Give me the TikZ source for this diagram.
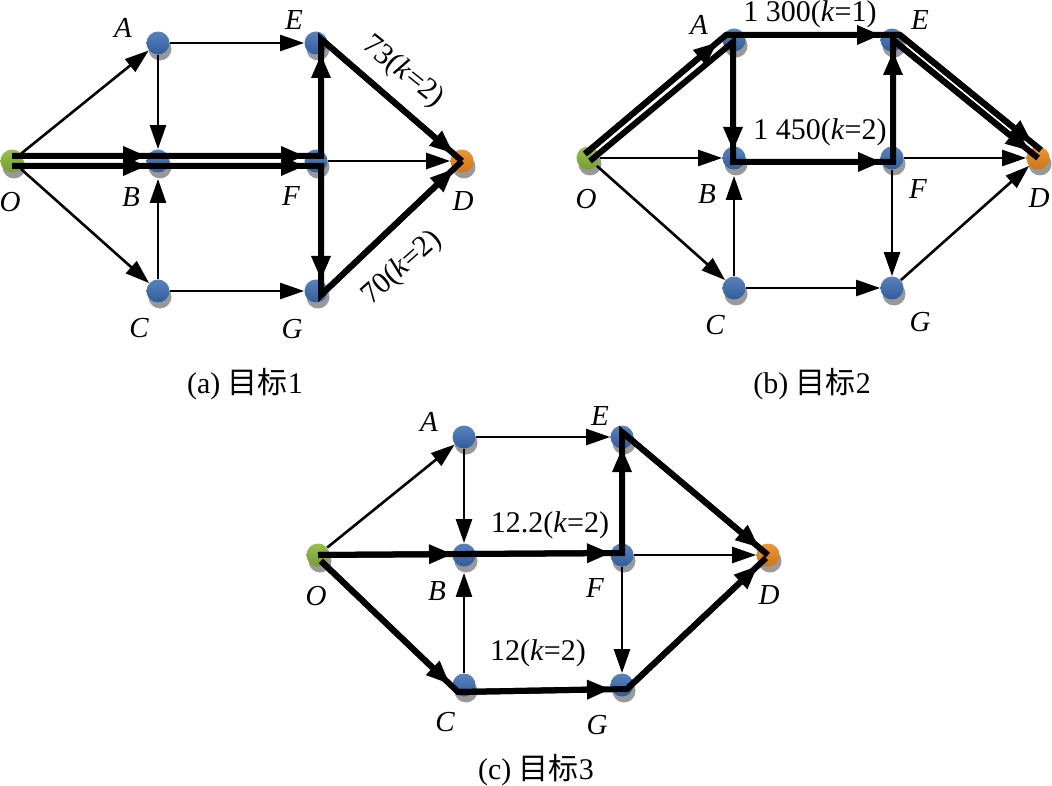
\documentclass[tikz,border=0pt]{standalone}
\usepackage{fontspec}
\setmainfont{Liberation Serif}
\newfontfamily\cjk{Noto Sans CJK SC}
\usetikzlibrary{arrows.meta,calc,shadows}
\definecolor{nodeblue}{HTML}{3A6DB4}
\definecolor{nodegreen}{HTML}{8CB83A}
\definecolor{nodeorange}{HTML}{EE8A1E}

\tikzset{
  vtx/.style={circle, minimum size=11.5pt, inner sep=0pt,
    top color=nodeblue!85!white, bottom color=nodeblue!85!black,
    general shadow={shadow xshift=1pt, shadow yshift=-3pt, fill=black!40}},
  src/.style={vtx, top color=nodegreen!90!white, bottom color=nodegreen!85!black},
  dst/.style={vtx, top color=nodeorange!90!white, bottom color=nodeorange!85!black},
  lbl/.style={font=\fontsize{14.5}{17}\selectfont\itshape},
  wlbl/.style={font=\fontsize{15}{18}\selectfont, inner sep=1pt},
  capt/.style={font=\fontsize{15}{18}\selectfont, inner sep=1pt},
  link/.style={line width=1.3pt, -{Triangle[length=12pt,width=8pt]}},
  hot/.style={line width=3pt},
  hottip/.style={line width=3pt, -{Triangle[length=12pt,width=9pt]}, shorten >=5.5pt},
}

% the eight places of one panel, #1 prefix, #2 origin, #3 labels of E, F, G
\newcommand\netnodes[3]{%
  \begin{scope}[shift={(#2)}]
    \node[src] (#1-O) at (0,0) {};
    \node[vtx] (#1-A) at (146,-118) {};
    \node[vtx] (#1-E) at (304,-118) {};
    \node[vtx] (#1-B) at (146,0) {};
    \node[vtx] (#1-F) at (304,0) {};
    \node[dst] (#1-D) at (450,0) {};
    \node[vtx] (#1-C) at (146,130) {};
    \node[vtx] (#1-G) at (304,130) {};
  \end{scope}
  \foreach \n/\dx/\dy in {O/-2/41, A/-35/-15, B/-27/36, C/-19/37, D/1/40, #3}
    \node[lbl] (#1-l\n) at ($(#1-\n)+(\dx,\dy)$) {\n};
}
\newcommand\tipto[4]{\draw[hottip] ($(#1)+(#2)$) -- ($(#3)+(#4)$);}

\begin{document}
\begin{tikzpicture}[x=0.5pt,y=-0.5pt]
  \useasboundingbox (0,0) rectangle (1052,785);

  % (a)
  \netnodes{a}{12,161}{E/-22/-23, F/-25/35, G/-24/38}
  \draw[hot] ($(a-O)+(0,-5)$) -- ($(a-F)+(5,-5)$) -- ($(a-E)+(5,-4)$) -- (a-D.center);
  \draw[hot] ($(a-O)+(0,5)$) -- ($(a-F)+(5,5)$) -- ($(a-G)+(5,4)$) -- (a-D.center);
  \tipto{a-O}{0,-5}{a-B}{0,-5}
  \tipto{a-B}{0,-5}{a-F}{0,-5}
  \tipto{a-F}{5,-5}{a-E}{5,0}
  \tipto{a-E}{5,-4}{a-D}{0,0}
  \tipto{a-O}{0,5}{a-B}{0,5}
  \tipto{a-B}{0,5}{a-F}{0,5}
  \tipto{a-F}{5,5}{a-G}{5,0}
  \tipto{a-G}{5,4}{a-D}{0,0}
  \foreach \u/\v in {O/A, O/C, A/E, A/B, C/G, F/D}
    \draw[link] (a-\u) -- (a-\v);
  \draw[link, shorten >=3pt] (a-C) -- (a-B);
  \node[wlbl, rotate=-38.8] (a-w1) at (403,72) {73(\textit{k}=2)};
  \node[wlbl, rotate=41.7] (a-w2) at (402,268) {70(\textit{k}=2)};
  \node[capt] (a-cap) at (245,384) {(a) {\cjk 目标}1};

  % (b)
  \netnodes{b}{588,158}{E/28/-20, F/26/31, G/28/34}
  \draw[hot] ($(b-O)+(-3,-4)$) -- ($(b-A)+(-8,-5)$) -- ($(b-E)+(8,-5)$) -- ($(b-D)+(3,-8)$);
  \draw[hot] ($(b-O)+(2,3)$) -- ($(b-A)+(-1,2)$) -- ($(b-B)+(-1,4)$) -- ($(b-F)+(1,4)$)
    -- ($(b-E)+(1,0)$) -- (b-D.center);
  \tipto{b-O}{-3,-4}{b-A}{-8,-5}
  \tipto{b-A}{-8,-5}{b-E}{0,-5}
  \tipto{b-E}{8,-5}{b-D}{3,-8}
  \tipto{b-A}{-1,2}{b-B}{-1,4}
  \tipto{b-B}{-1,4}{b-F}{1,4}
  \tipto{b-F}{1,4}{b-E}{1,0}
  \tipto{b-E}{1,0}{b-D}{0,0}
  \foreach \u/\v in {O/B, O/C, C/G, F/G, F/D, G/D}
    \draw[link] (b-\u) -- (b-\v);
  \draw[link, shorten >=3pt] (b-C) -- (b-B);
  \node[wlbl] (b-w1) at (810,14) {1 300(\textit{k}=1)};
  \node[wlbl] (b-w2) at (820,132) {1 450(\textit{k}=2)};
  \node[capt] (b-cap) at (812,384) {(b) {\cjk 目标}2};

  % (c)
  \netnodes{c}{318,555}{E/-22/-21, F/-27/33, G/-25/40}
  \draw[hot] (c-O.center) -- ($(c-F)+(0,-2)$) -- ($(c-E)+(0,-5)$) -- (c-D.center);
  \draw[hot] ($(c-O)+(3,6)$) -- ($(c-C)+(-6,7)$) -- ($(c-G)+(5,4)$) -- ($(c-D)+(-2,3)$);
  \tipto{c-O}{0,0}{c-B}{0,-1}
  \tipto{c-B}{0,-1}{c-F}{0,-2}
  \tipto{c-F}{0,-2}{c-E}{0,0}
  \tipto{c-E}{0,-5}{c-D}{0,0}
  \tipto{c-O}{3,6}{c-C}{-6,7}
  \tipto{c-C}{-6,7}{c-G}{0,4}
  \tipto{c-G}{5,4}{c-D}{-2,3}
  \foreach \u/\v in {O/A, A/E, A/B, F/G, F/D}
    \draw[link] (c-\u) -- (c-\v);
  \draw[link, shorten >=3pt] (c-C) -- (c-B);
  \node[wlbl] (c-w1) at (550,525) {12.2(\textit{k}=2)};
  \node[wlbl] (c-w2) at (538,653) {12(\textit{k}=2)};
  \node[capt] (c-cap) at (536,770) {(c) {\cjk 目标}3};
\end{tikzpicture}
\end{document}
